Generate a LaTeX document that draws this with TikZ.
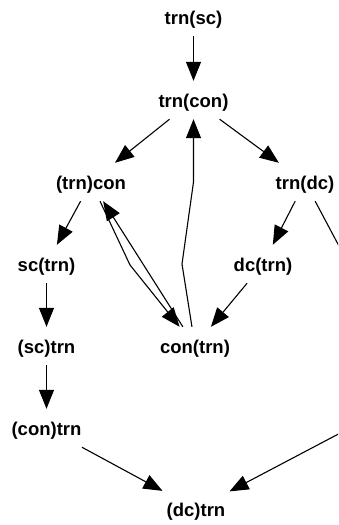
\documentclass[tikz,border=0pt]{standalone}
\usepackage{fontspec}
\setmainfont{Liberation Sans}
\usetikzlibrary{arrows.meta}

\begin{document}
\begin{tikzpicture}[x=1pt,y=-1pt,
  lab/.style={font=\fontsize{18.5}{22}\selectfont\bfseries, inner xsep=4pt, inner ysep=0pt,
    text height=26.8pt, text depth=11.2pt},
  edge/.style={line width=1.1pt, -{Triangle[length=19pt,width=15pt]}}]
\useasboundingbox (0,0) rectangle (338,525);
\clip (0,0) rectangle (338,525);
\node[lab] (tsc) at (193.5,17) {trn(sc)};
\node[lab] (tcon) at (193.5,100) {trn(con)};
\node[lab] (ptcon) at (91,182) {(trn)con};
\node[lab] (tdc) at (305,182) {trn(dc)};
\node[lab] (sct) at (46.5,264) {sc(trn)};
\node[lab] (dct) at (263,264) {dc(trn)};
\node[lab] (psct) at (46.5,346) {(sc)trn};
\node[lab] (cont) at (195,346) {con(trn)};
\node[lab] (pcont) at (46.5,428) {(con)trn};
\node[lab] (pdct) at (196,509) {(dc)trn};
\coordinate (bend1) at (130,265);
\coordinate (bend2) at (182,264);
\coordinate (bend3) at (193.5,182);
\coordinate (bend4) at (365,295);
\coordinate (bend5) at (365,420);
\draw[edge] (tsc) -- (tcon);
\draw[edge] (tcon) -- (ptcon);
\draw[edge] (tcon) -- (tdc);
\draw[edge] (ptcon) -- (sct);
\draw[edge] (ptcon) -- (bend1) -- (cont);
\draw[edge] (cont) -- (ptcon);
\draw[edge] (cont) -- (bend2) -- (bend3) -- (tcon);
\draw[edge] (tdc) -- (dct);
\draw[edge] (tdc) -- (bend4) -- (bend5) -- (pdct);
\draw[edge] (sct) -- (psct);
\draw[edge] (dct) -- (cont);
\draw[edge] (psct) -- (pcont);
\draw[edge] (pcont) -- (pdct);
\end{tikzpicture}
\end{document}
